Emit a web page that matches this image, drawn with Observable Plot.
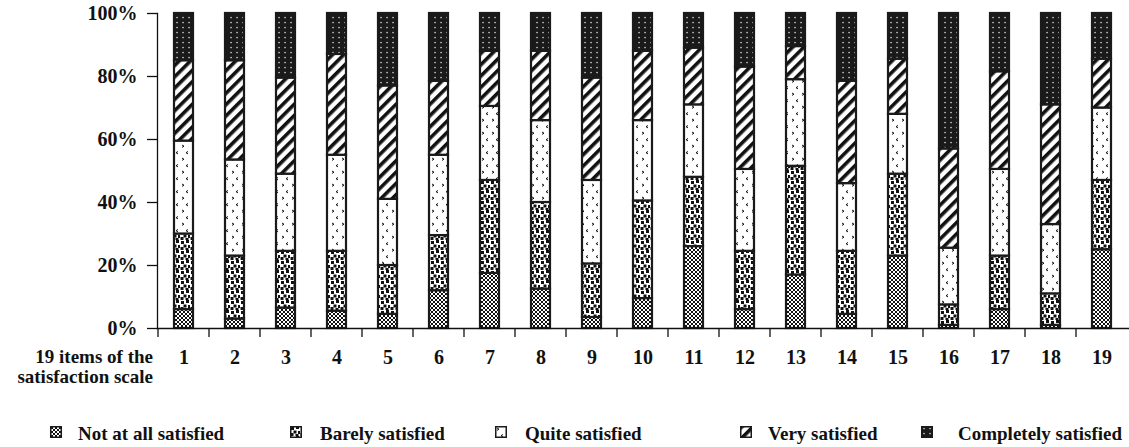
<!DOCTYPE html>
<html>
<head>
<meta charset="utf-8">
<script src="https://cdn.jsdelivr.net/npm/d3@7"></script>
<script src="https://cdn.jsdelivr.net/npm/@observablehq/plot@0.6"></script>
<style>
  html, body { margin: 0; padding: 0; background: #fff; }
  body { font-family: "Liberation Serif", "Times New Roman", serif; font-weight: bold; color: #111; }
  #wrap { position: relative; width: 1129px; height: 447px; overflow: hidden; }
  #defs { position: absolute; width: 0; height: 0; }
  #legend { position: absolute; left: 0; top: 0; width: 1129px; height: 447px; pointer-events: none; }
  .sw { position: absolute; top: 426px; }
  .lb { position: absolute; top: 424px; font-size: 19px; line-height: 19px; white-space: nowrap; }
</style>
</head>
<body>
<div id="wrap">
<svg id="defs" aria-hidden="true">
  <defs>
    <pattern id="p0" patternUnits="userSpaceOnUse" width="4" height="4">
      <rect width="4" height="4" fill="#fff"/>
      <rect x="0" y="0" width="1" height="1" fill="#111"/>
      <rect x="1" y="1" width="1" height="1" fill="#111"/>
      <rect x="2" y="2" width="1" height="1" fill="#111"/>
      <rect x="3" y="3" width="1" height="1" fill="#111"/>
      <rect x="3" y="0" width="1" height="1" fill="#111"/>
      <rect x="2" y="1" width="1" height="1" fill="#111"/>
      <rect x="1" y="2" width="1" height="1" fill="#111"/>
      <rect x="0" y="3" width="1" height="1" fill="#111"/>
    </pattern>
    <pattern id="p1" patternUnits="userSpaceOnUse" width="10" height="10">
      <rect width="10" height="10" fill="#fff"/>
      <rect x="1" y="1" width="3" height="3" fill="#111"/>
      <rect x="6" y="0" width="3" height="3" fill="#111"/>
      <rect x="3.5" y="4.5" width="3" height="3" fill="#111"/>
      <rect x="8" y="5" width="3" height="3" fill="#111"/>
      <rect x="0.5" y="7" width="3" height="3" fill="#111"/>
      <rect x="5.5" y="8" width="3" height="3" fill="#111"/>
    </pattern>
    <pattern id="p2" patternUnits="userSpaceOnUse" width="10" height="13">
      <rect width="10" height="13" fill="#fff"/>
      <path d="M2,2 L4,3.2 L2,4.4" fill="none" stroke="#111" stroke-width="1"/>
      <path d="M8,8.5 L6,9.7 L8,10.9" fill="none" stroke="#111" stroke-width="1"/>
    </pattern>
    <pattern id="p3" patternUnits="userSpaceOnUse" width="8" height="8" patternTransform="rotate(45)">
      <rect width="8" height="8" fill="#fff"/>
      <rect x="0" y="0" width="3.6" height="8" fill="#111"/>
    </pattern>
    <pattern id="p4" patternUnits="userSpaceOnUse" width="6" height="5">
      <rect width="6" height="5" fill="#1a1a1a"/>
      <rect x="2.4" y="1.9" width="1.3" height="1.3" fill="#e8e8e8"/>
    </pattern>
  </defs>
</svg>
<div id="chart"></div>
<div id="legend"></div>
</div>
<script>
// ---- data ----
const items = ["1","2","3","4","5","6","7","8","9","10","11","12","13","14","15","16","17","18","19"];
const categories = ["Not at all satisfied", "Barely satisfied", "Quite satisfied", "Very satisfied", "Completely satisfied"];
const notAtAll   = [6, 3, 6.5, 5.5, 4.5, 12, 17.5, 12.5, 3.5, 9.5, 26, 6, 17, 4.5, 23, 1, 6, 1, 25];
const barely     = [24, 20, 18, 19, 15.5, 17.5, 29.5, 27.5, 17, 31, 22, 18.5, 34.5, 20, 26, 6.5, 17, 10, 22];
const quite      = [29.5, 30.5, 24.5, 30.5, 21, 25.5, 23.5, 26, 26.5, 25.5, 23, 26, 27.5, 21.5, 19, 18, 27.5, 22, 23];
const very       = [25.5, 31.5, 30.5, 32, 36, 23.5, 17.5, 22, 32.5, 22, 18, 32.5, 10.5, 32.5, 17.5, 31.5, 31, 38, 15.5];
const completely = [15, 15, 20.5, 13, 23, 21.5, 12, 12, 20.5, 12, 11, 17, 10.5, 21.5, 14.5, 43, 18.5, 29, 14.5];
const yTicks = [0, 20, 40, 60, 80, 100];
const axisTitle = ["19 items of the", "satisfaction scale"];

// ---- build ----
const series = [notAtAll, barely, quite, very, completely];
const patternUrls = ["url(#p0)", "url(#p1)", "url(#p2)", "url(#p3)", "url(#p4)"];
const rows = [];
series.forEach((vals, i) => vals.forEach((v, j) => rows.push({item: items[j], cat: categories[i], value: v})));

const chart = Plot.plot({
  width: 1129,
  height: 400,
  marginTop: 13,
  marginBottom: 72,
  marginLeft: 157,
  marginRight: 0,
  style: {fontFamily: '"Liberation Serif", "Times New Roman", serif', fontSize: "20px", fontWeight: "bold", background: "transparent", color: "#111"},
  x: {domain: items, paddingInner: 0.62, paddingOuter: 0.31, label: null},
  y: {domain: [0, 100], label: null},
  color: {type: "ordinal", domain: categories, range: patternUrls},
  marks: [
    Plot.barY(rows, {x: "item", y: "value", fill: "cat", stroke: "#1a1a1a", strokeWidth: 2.2}),
    Plot.axisX({tickSize: 0, tickPadding: 21, label: null}),
    Plot.axisY({ticks: yTicks, tickFormat: d => d + "%", tickSize: 10, tickPadding: 10, label: null, strokeWidth: 1.3}),
    Plot.frame({anchor: "left", strokeWidth: 1.3}),
    Plot.frame({anchor: "bottom", strokeWidth: 1.3})
  ]
});
document.getElementById("chart").appendChild(chart);

// category boundary ticks on the x axis
const xs = chart.scale("x");
const step = xs.step;
const bw = xs.bandwidth;
const svg = d3.select(chart);
const y0 = chart.scale("y").apply(0);
const g = svg.append("g").attr("stroke", "#111").attr("stroke-width", 1.3);
items.forEach(it => {
  const cx = xs.apply(it) + bw / 2;
  const bx = cx - step / 2;
  g.append("line").attr("x1", bx).attr("x2", bx).attr("y1", y0).attr("y2", y0 + 9);
});

// axis title (two lines, right-aligned next to the tick labels)
const t = svg.append("text").attr("text-anchor", "end").attr("fill", "#111")
  .attr("font-size", 19).attr("font-weight", "bold");
axisTitle.forEach((line, i) => {
  t.append("tspan").attr("x", 153).attr("y", y0 + 35 + i * 20).text(line);
});

// legend
const legendPos = [[50, 78], [290, 320], [495, 525], [740, 768], [921, 958]];
const legend = document.getElementById("legend");
categories.forEach((c, i) => {
  const sw = document.createElementNS("http://www.w3.org/2000/svg", "svg");
  sw.setAttribute("class", "sw");
  sw.setAttribute("width", 12);
  sw.setAttribute("height", 12);
  sw.style.left = legendPos[i][0] + "px";
  const r = document.createElementNS("http://www.w3.org/2000/svg", "rect");
  r.setAttribute("x", 0.75); r.setAttribute("y", 0.75);
  r.setAttribute("width", 10.5); r.setAttribute("height", 10.5);
  r.setAttribute("fill", patternUrls[i]);
  r.setAttribute("stroke", "#1a1a1a");
  r.setAttribute("stroke-width", 1.5);
  sw.appendChild(r);
  legend.appendChild(sw);
  const lb = document.createElement("span");
  lb.className = "lb";
  lb.style.left = legendPos[i][1] + "px";
  lb.textContent = c;
  legend.appendChild(lb);
});
</script>
</body>
</html>
